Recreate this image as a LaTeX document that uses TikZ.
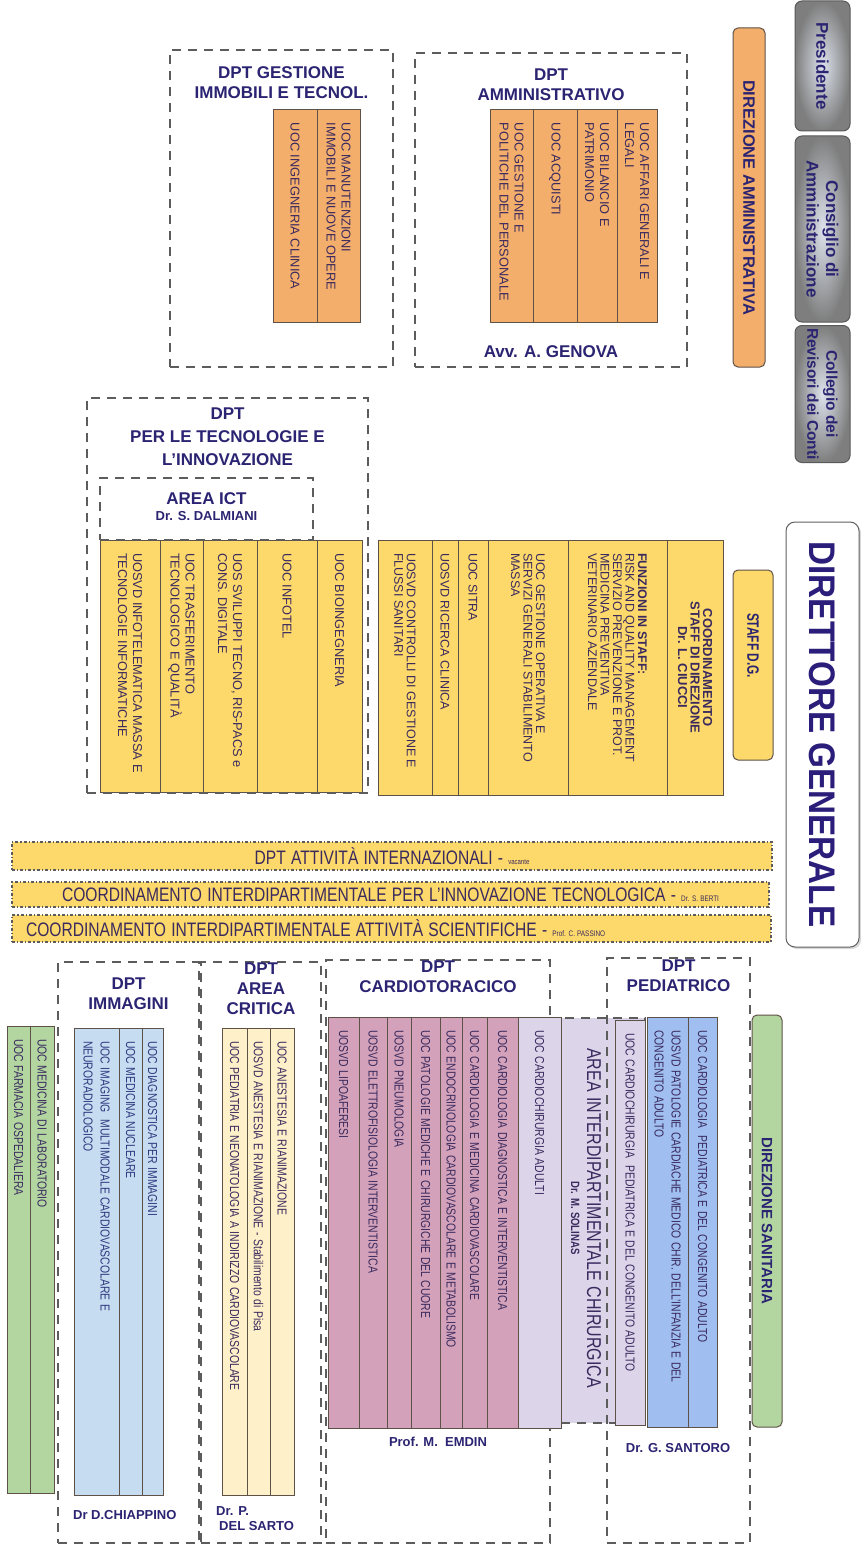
\documentclass[tikz,border=0pt]{standalone}
\usepackage{fontspec}
\setmainfont{Liberation Sans}
\newfontfamily\narrowfont[FakeStretch=0.8, WordSpace=1.2]{Liberation Sans}
\newfontfamily\condfont[FakeStretch=0.72]{Liberation Sans}
\newfontfamily\dgfont[FakeStretch=0.9]{Liberation Sans}
\usepackage{tikz}
\usetikzlibrary{positioning}
\usetikzlibrary{fit}
\usetikzlibrary{shadows}

\definecolor{ink}{HTML}{3A2A5E}
\definecolor{inkblue}{HTML}{2E3A80}
\definecolor{ttl}{HTML}{2B2472}
\definecolor{dgink}{HTML}{2B1E7A}
\definecolor{dashgrey}{HTML}{5C5C5C}
\definecolor{edge}{HTML}{5E5248}
\definecolor{orangeU}{HTML}{F4AE6B}
\definecolor{yellowU}{HTML}{FDD86A}
\definecolor{greenU}{HTML}{B3D6A1}
\definecolor{blueU}{HTML}{C6DCF0}
\definecolor{creamU}{HTML}{FEF0C8}
\definecolor{pinkU}{HTML}{D3A2BA}
\definecolor{lilacU}{HTML}{DCD5EA}
\definecolor{pedblue}{HTML}{A0BFF0}
\definecolor{govin}{HTML}{DCE2EC}
\definecolor{govout}{HTML}{7E7E7E}

% one unit column: name, x1, x2, y1, y2, style, text
\newcommand\uoc[7]{%
  \pgfmathsetmacro\ucx{(#2+#3)/2}%
  \pgfmathsetmacro\ucy{(#4+#5)/2}%
  \pgfmathsetmacro\ucw{#3-#2}%
  \pgfmathsetmacro\ucl{#5-#4}%
  \pgfmathsetmacro\uct{#5-#4-26}%
  \node[unit, #6, minimum width=\ucl pt, minimum height=\ucw pt,
    text width=\uct pt] (#1) at (\ucx,\ucy) {#7};%
}

\begin{document}
\begin{tikzpicture}[
    x=1pt, y=-1pt,
    unit/.style={draw=edge, line width=1pt, rotate=-90, align=flush left, text=ink,
      inner xsep=13pt, inner ysep=1pt, font=\fontsize{12.8}{15}\selectfont},
    staffunit/.style={font=\fontsize{12.5}{12.5}\selectfont},
    lowunit/.style={font=\narrowfont\fontsize{13}{17}\selectfont},
    dptbox/.style={draw=dashgrey, line width=2.6pt, dash pattern=on 9pt off 7pt,
      inner sep=0pt, outer sep=0pt},
    dpttitle/.style={text=ttl, align=center, inner sep=1pt,
      font=\bfseries\fontsize{17}{20}\selectfont},
    head/.style={text=ttl, inner sep=1pt, font=\bfseries\fontsize{13}{15}\selectfont},
    band/.style={draw=dashgrey, line width=1.2pt, dash dot, fill=yellowU, text=ink,
      font=\narrowfont\fontsize{19.5}{20}\selectfont},
    govbox/.style={rotate=-90, rounded corners=7pt, draw=gray!70!black, line width=1pt,
      inner color=govin, outer color=govout, text=ttl, align=center, inner sep=2pt,
      font=\bfseries\fontsize{17}{19.5}\selectfont},
    rbox/.style={rotate=-90, rounded corners=5pt, draw=edge, line width=1pt, text=ttl,
      align=center, font=\bfseries\fontsize{16.5}{19}\selectfont},
  ]
  \useasboundingbox (0,0) rectangle (861,1546);
  \fill[white] (0,0) rectangle (861,1546);

  % organi di vertice
  \node[govbox, minimum width=130pt, minimum height=55pt] (pres) at (822.5,66) {Presidente};
  \node[govbox, minimum width=186pt, minimum height=55pt] (cda) at (822.5,229) {Consiglio di\\Amministrazione};
  \node[govbox, minimum width=137pt, minimum height=55pt,
    font=\bfseries\fontsize{15.5}{19}\selectfont] (revisori) at (822.5,394) {Collegio dei\\Revisori dei Conti};
  \node[rotate=-90, rounded corners=9pt, draw=gray!75!black, line width=1pt, fill=white,
    drop shadow={opacity=0.3, shadow xshift=2pt, shadow yshift=-2pt},
    minimum width=425pt, minimum height=73pt, text=dgink,
    font=\dgfont\bfseries\fontsize{37}{40}\selectfont] (dg) at (822.5,734.5) {DIRETTORE GENERALE};
  \node[rbox, fill=orangeU, minimum width=339pt, minimum height=32pt] (diram) at (749,197.5) {DIREZIONE AMMINISTRATIVA};
  \node[rbox, fill=yellowU, minimum width=190pt, minimum height=40pt, inner xsep=43pt,
    text width=104pt, align=flush left, font=\condfont\bfseries\fontsize{16.5}{19}\selectfont] (staffdg) at (753,665) {STAFF D.G.};

  % dipartimenti amministrativi
  \uoc{ingcl}{273}{317}{110}{322}{fill=orangeU}{UOC INGEGNERIA CLINICA}
  \uoc{manut}{317}{360}{110}{322}{fill=orangeU}{UOC MANUTENZIONI\\IMMOBILI E NUOVE OPERE}
  \uoc{gestpers}{490}{533}{110}{322}{fill=orangeU}{UOC GESTIONE E\\POLITICHE DEL PERSONALE}
  \uoc{acquisti}{533}{577}{110}{322}{fill=orangeU}{UOC ACQUISTI}
  \uoc{bilancio}{577}{617}{110}{322}{fill=orangeU}{UOC BILANCIO E\\PATRIMONIO}
  \uoc{affleg}{617}{657}{110}{322}{fill=orangeU}{UOC AFFARI GENERALI E\\LEGALI}

  \node[dptbox, fit={(170,50) (393,367)}] (dgest) {};
  \node[dpttitle, below=15pt of dgest.north] (dgest-t) {DPT GESTIONE\\IMMOBILI E TECNOL.};
  \node[dptbox, fit={(415,53) (687,367)}] (damm) {};
  \node[dpttitle, below=15pt of damm.north] (damm-t) {DPT\\AMMINISTRATIVO};
  \node[dpttitle, above=8pt of damm.south] (genova) {Avv. A. GENOVA};

  % tecnologie e staff
  \uoc{infotelm}{100}{160}{540}{792}{fill=yellowU}{UOSVD INFOTELEMATICA MASSA E\\TECNOLOGIE INFORMATICHE}
  \uoc{trasf}{160}{203}{540}{792}{fill=yellowU}{UOC TRASFERIMENTO\\TECNOLOGICO E QUALITÀ}
  \uoc{sviluppi}{203}{257}{540}{792}{fill=yellowU}{UOS SVILUPPI TECNO, RIS-PACS e\\CONS. DIGITALE}
  \uoc{infotel}{257}{317}{540}{792}{fill=yellowU}{UOC INFOTEL}
  \uoc{bioing}{317}{362}{540}{792}{fill=yellowU}{UOC BIOINGEGNERIA}

  \node[dptbox, fit={(87,398) (368,793)}] (dtec) {};
  \node[dpttitle, below=9pt of dtec.north, font=\bfseries\fontsize{17}{23}\selectfont] (dtec-t) {DPT\\PER LE TECNOLOGIE E\\L’INNOVAZIONE};
  \node[dptbox, fit={(100,478) (313,540)}] (ict) {};
  \node[dpttitle, below=13pt of ict.north] (ict-t) {AREA ICT};
  \node[head, below=5pt of ict-t] (dalmiani) {Dr. S. DALMIANI};

  \uoc{controlli}{378}{432}{540}{795}{fill=yellowU, staffunit}{UOSVD CONTROLLI DI GESTIONE E\\FLUSSI SANITARI}
  \uoc{ricerca}{432}{458}{540}{795}{fill=yellowU, staffunit}{UOSVD RICERCA CLINICA}
  \uoc{sitra}{458}{488}{540}{795}{fill=yellowU, staffunit}{UOC SITRA}
  \uoc{gestop}{488}{568}{540}{795}{fill=yellowU, staffunit}{UOC GESTIONE OPERATIVA E\\SERVIZI GENERALI STABILIMENTO\\MASSA}
  \uoc{funzioni}{568}{667}{540}{795}{fill=yellowU, staffunit}{\textbf{FUNZIONI IN STAFF:}\\RISK AND QUALITY MANAGEMENT\\SERVIZIO PREVENZIONE E PROT.\\MEDICINA PREVENTIVA\\VETERINARIO AZIENDALE}
  \uoc{coordstaff}{667}{723}{540}{795}{fill=yellowU, align=flush center, font=\bfseries\fontsize{13}{12.5}\selectfont}{COORDINAMENTO\\STAFF DI DIREZIONE\\Dr. L. CIUCCI}

  % coordinamenti trasversali
  \node[band, minimum width=760pt, minimum height=28pt] (intl) at (392,856)
    {DPT ATTIVITÀ INTERNAZIONALI - {\fontsize{7.5}{8}\selectfont vacante}};
  \node[band, minimum width=757pt, minimum height=25pt] (innov) at (390.5,894.5)
    {COORDINAMENTO INTERDIPARTIMENTALE PER L’INNOVAZIONE TECNOLOGICA - {\fontsize{8}{8}\selectfont Dr. S. BERTI}};
  \node[band, minimum width=759pt, minimum height=27pt, inner xsep=14pt, text width=731pt, align=flush left] (scient) at (391.5,928.5)
    {COORDINAMENTO INTERDIPARTIMENTALE ATTIVITÀ SCIENTIFICHE - {\fontsize{8}{8}\selectfont Prof. C. PASSINO}};

  % dipartimenti sanitari
  \node[dptbox, fit={(58,962) (199,1543)}] (dimm) {};
  \node[dpttitle, below=15pt of dimm.north] (dimm-t) {DPT\\IMMAGINI};
  \node[dptbox, fit={(201,962) (321,1543)}] (dcrit) {};
  \node[dpttitle, below=0pt of dcrit.north] (dcrit-t) {DPT\\AREA\\CRITICA};
  \node[dptbox, fit={(326,960) (550,1543)}] (dcar) {};
  \node[dpttitle, below=0pt of dcar.north] (dcar-t) {DPT\\CARDIOTORACICO};
  \node[dptbox, fill=lilacU, fit={(561,1018) (645,1423)}] (achir) {};
  \node[dptbox, fit={(607,958) (750,1543)}] (dped) {};
  \node[dpttitle, below=1pt of dped.north] (dped-t) {DPT\\PEDIATRICO};

  \uoc{farmacia}{7}{30}{1026}{1493}{fill=greenU, lowunit}{UOC FARMACIA OSPEDALIERA}
  \uoc{medlab}{30}{54}{1026}{1493}{fill=greenU, lowunit}{UOC MEDICINA DI LABORATORIO}

  \uoc{imaging}{74}{119}{1028}{1495}{fill=blueU, lowunit, text=inkblue}{UOC IMAGING\ \ MULTIMODALE CARDIOVASCOLARE E\\NEURORADIOLOGICO}
  \uoc{mednucl}{119}{142}{1028}{1495}{fill=blueU, lowunit, text=inkblue}{UOC MEDICINA NUCLEARE}
  \uoc{diagimm}{142}{163}{1028}{1495}{fill=blueU, lowunit, text=inkblue}{UOC DIAGNOSTICA PER IMMAGINI}

  \uoc{pedneo}{222}{247}{1028}{1495}{fill=creamU, lowunit}{UOC PEDIATRIA E NEONATOLOGIA A INDIRIZZO CARDIOVASCOLARE}
  \uoc{anespisa}{247}{270}{1028}{1495}{fill=creamU, lowunit}{UOSVD ANESTESIA E RIANIMAZIONE - Stabilimento di Pisa}
  \uoc{anes}{270}{294}{1028}{1495}{fill=creamU, lowunit}{UOC ANESTESIA E RIANIMAZIONE}

  \uoc{lipo}{328}{359}{1017}{1428}{fill=pinkU, lowunit}{UOSVD LIPOAFERESI}
  \uoc{elettro}{359}{387}{1017}{1428}{fill=pinkU, lowunit}{UOSVD ELETTROFISIOLOGIA INTERVENTISTICA}
  \uoc{pneumo}{387}{411}{1017}{1428}{fill=pinkU, lowunit}{UOSVD PNEUMOLOGIA}
  \uoc{patol}{411}{440}{1017}{1428}{fill=pinkU, lowunit}{UOC PATOLOGIE MEDICHE E CHIRURGICHE DEL CUORE}
  \uoc{endo}{440}{462}{1017}{1428}{fill=pinkU, lowunit}{UOC ENDOCRINOLOGIA CARDIOVASCOLARE E METABOLISMO}
  \uoc{cardmed}{462}{487}{1017}{1428}{fill=pinkU, lowunit}{UOC CARDIOLOGIA E MEDICINA CARDIOVASCOLARE}
  \uoc{carddiag}{487}{518}{1017}{1428}{fill=pinkU, lowunit}{UOC CARDIOLOGIA DIAGNOSTICA E INTERVENTISTICA}
  \uoc{cchad}{518}{561}{1017}{1428}{fill=lilacU, lowunit}{UOC CARDIOCHIRURGIA ADULTI}

  \node[rotate=-90, align=center, text=ink, inner sep=1pt,
    font=\narrowfont\fontsize{20}{16}\selectfont] (achir-t) at (586,1218)
    {AREA INTERDIPARTIMENTALE CHIRURGICA\\{\bfseries\fontsize{12}{12}\selectfont Dr. M. SOLINAS}};

  \uoc{cchped}{615}{645}{1020}{1425}{fill=lilacU, lowunit}{UOC CARDIOCHIRURGIA\ \ PEDIATRICA E DEL CONGENITO ADULTO}
  \uoc{patcard}{647}{688}{1017}{1427}{fill=pedblue, lowunit}{UOSVD PATOLOGIE CARDIACHE MEDICO CHIR. DELL’INFANZIA E DEL\\CONGENITO ADULTO}
  \uoc{cardped}{688}{717}{1017}{1427}{fill=pedblue, lowunit}{UOC CARDIOLOGIA\ \ PEDIATRICA E DEL CONGENITO ADULTO}

  \node[rbox, fill=greenU, minimum width=412pt, minimum height=30pt,
    font=\bfseries\fontsize{15}{18}\selectfont] (dirsan) at (767,1221) {DIREZIONE SANITARIA};

  % direttori
  \node[head, anchor=west] (chiappino) at (72,1515) {Dr D.CHIAPPINO};
  \node[head, anchor=north west, align=left] (delsarto) at (215,1505) {Dr. P.\\\hspace{3pt}DEL SARTO};
  \node[head] (emdin) at (438,1442) {Prof. M.\ \ EMDIN};
  \node[head] (santoro) at (678,1448) {Dr. G. SANTORO};
\end{tikzpicture}
\end{document}
